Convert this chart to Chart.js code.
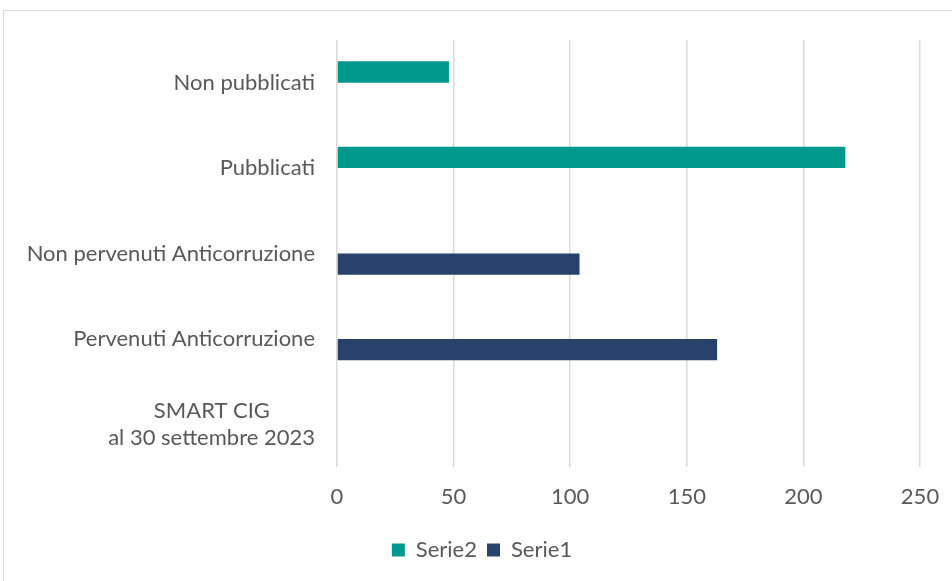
<!DOCTYPE html>
<html>
<head>
<meta charset="utf-8">
<script src="https://cdn.jsdelivr.net/npm/chart.js@4.4.0/dist/chart.umd.min.js"></script>
<style>
  html, body { margin: 0; padding: 0; background: #fff; }
  #frame { position: absolute; left: 3px; top: 10px; width: 960px; height: 590px; border: 1px solid #d9d9d9; }
  #wrap { position: absolute; left: 0; top: 0; width: 952px; height: 581px; }
</style>
</head>
<body>
<div id="frame"></div>
<div id="wrap"><canvas id="barChart"></canvas></div>

<script>
    // categories top to bottom, same order as the picture
    var categories = [
        'Non pubblicati',
        'Pubblicati',
        'Non pervenuti Anticorruzione',
        'Pervenuti Anticorruzione',
        ['SMART CIG        ', 'al 30 settembre 2023']
    ];
    var serie2 = [48, 218, null, null, null];
    var serie1 = [null, null, 104, 163, null];
    var xTicks = [0, 50, 100, 150, 200, 250];

    var textColor = '#595959';

    // legend in the original sits a bit right of the canvas centre
    var legendShift = {
        id: 'legendShift',
        afterLayout: function(chart) {
            if (chart.legend) {
                chart.legend.left += 44;
                chart.legend.right += 0;
            }
        }
    };

    var ctx = document.getElementById('barChart').getContext('2d');
    var myBarChart = new Chart(ctx, {
        type: 'bar',
        data: {
            labels: categories,
            datasets: [
                {
                    label: 'Serie2',
                    data: serie2,
                    backgroundColor: '#00988c',
                    categoryPercentage: 0.5,
                    barPercentage: 1.0
                },
                {
                    label: 'Serie1',
                    data: serie1,
                    backgroundColor: '#27436b',
                    categoryPercentage: 0.5,
                    barPercentage: 1.0
                }
            ]
        },
        plugins: [legendShift],
        options: {
            indexAxis: 'y',
            responsive: true,
            maintainAspectRatio: false,
            animation: false,
            layout: { padding: { left: 0, right: 32, top: 40, bottom: 10 } },
            scales: {
                x: {
                    min: xTicks[0],
                    max: xTicks[xTicks.length - 1],
                    afterBuildTicks: function(scale) {
                        scale.ticks = xTicks.map(function(v) { return { value: v }; });
                    },
                    afterFit: function(scale) {
                        scale.height = 62;
                        scale.paddingLeft = 0;
                        scale.paddingRight = 0;
                    },
                    border: { display: false },
                    grid: { color: '#d9d9d9', lineWidth: 1.5, drawTicks: false },
                    ticks: { color: textColor, padding: 17, font: { family: 'Lato', size: 22 } }
                },
                y: {
                    afterFit: function(scale) {
                        scale.width = 337;
                        scale.paddingTop = 0;
                        scale.paddingBottom = 0;
                    },
                    border: { display: false },
                    grid: { display: false, drawTicks: false },
                    ticks: { color: textColor, padding: 22, font: { family: 'Lato', size: 22, lineHeight: 1.25 } }
                }
            },
            plugins: {
                legend: {
                    position: 'bottom',
                    labels: {
                        color: textColor,
                        boxWidth: 13,
                        boxHeight: 13,
                        padding: 10,
                        font: { family: 'Lato', size: 22 }
                    }
                },
                tooltip: { enabled: false }
            }
        }
    });
</script>
</body>
</html>
